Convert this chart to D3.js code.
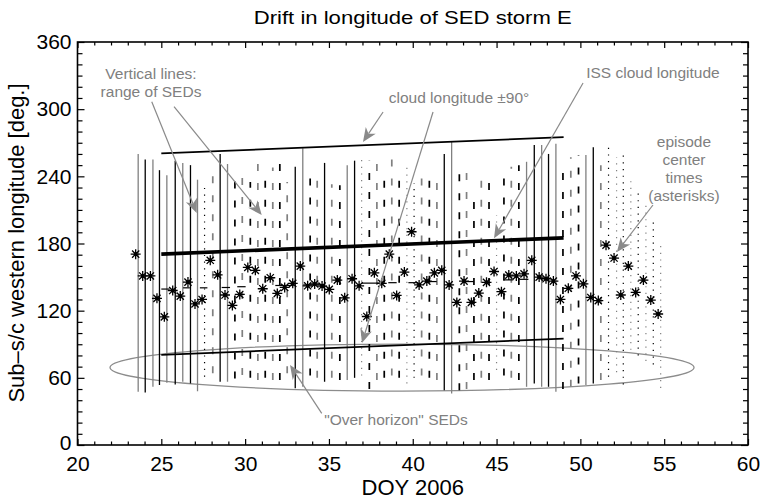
<!DOCTYPE html>
<html>
<head>
<meta charset="utf-8">
<script src="https://cdn.jsdelivr.net/npm/d3@7"></script>
<style>
  body { margin: 0; background: #fff; }
  text { font-family: "Liberation Sans", Arial, Helvetica, sans-serif; }
</style>
</head>
<body>
<div id="container"></div>
<script>
/* canvas + plot box */
const width = 761, height = 499;
const plotLeft = 77.5, plotRight = 748, plotTop = 42, plotBottom = 445;

/* SED episodes: centre time, centre longitude, longitude range, line kind
   s = solid, d = dashed, o = dotted */
const doy = [23.47, 23.89, 24.35, 24.74, 25.18, 25.68, 26.13, 26.59, 27.01, 27.43,
  27.92, 28.36, 28.80, 29.24, 29.68, 30.16, 30.61, 31.05, 31.50, 31.92,
  32.36, 32.84, 33.29, 33.73, 34.15, 34.59, 35.02, 35.50, 35.94, 36.38,
  36.80, 37.26, 37.71, 38.15, 38.60, 39.04, 39.50, 39.93, 40.38, 40.84,
  41.29, 41.73, 42.17, 42.63, 43.06, 43.50, 43.94, 44.40, 44.85, 45.29,
  45.73, 46.18, 46.64, 47.10, 47.54, 47.95, 48.39, 48.81, 49.28, 49.74,
  50.18, 50.62, 51.07, 51.53, 52.01, 52.41, 52.86, 53.30, 53.76, 54.20, 54.64];
const centerLon = [170.5, 151, 151, 131, 114.5, 138, 133, 145.5, 126, 130,
  165, 152, 134, 124.7, 134.5, 158.6, 156, 139.6, 149.4, 135.4,
  140.8, 144.4, 159.8, 142.2, 143.8, 142, 139, 147.3, 131.5, 148.5,
  142.2, 114.8, 153.8, 144.4, 170.5, 133.6, 154.5, 190.5, 143, 146.4,
  153.8, 156, 143, 127.4, 146.4, 127.4, 135.7, 145.3, 155, 137,
  151.8, 151, 152.9, 165, 150, 148.5, 146.4, 130, 140, 151,
  144, 131.8, 129, 178.5, 167, 134, 159.8, 136.3, 147.3, 129.5, 117];
const loLon = [47.6, 47, 52, 53.6, 55.6, 54, 56.5, 55, 48, 61,
  64, 56.5, 56.5, 59.5, 62.5, 60, 58, 60, 58, 58,
  64, 50.6, 52, 62, 60, 56.5, 60, 58, 58, 60,
  62, 50, 58, 60, 62, 60, 55, 60, 62, 60,
  58, 49, 46, 49, 50, 58, 60, 58, 67, 62,
  60, 58, 52, 55, 52, 52, 47.6, 50, 52, 55,
  53.6, 55, 58, 61, 65, 54, 85, 80, 75, 72, 51];
const hiLon = [260, 255, 255, 245.5, 241, 254, 252, 250, 237, 230,
  242.5, 260, 251, 238, 240, 235, 254, 237, 248, 251,
  235, 248.5, 265, 244, 245.5, 252, 233, 232, 250, 254,
  255, 254, 253, 240, 257, 244, 251.5, 234, 238, 245.5,
  243, 260, 271, 243, 243, 219, 237, 240, 205, 244,
  248.5, 250, 253, 268, 268, 260, 269, 245.5, 257, 259,
  259, 266, 250, 266, 257, 263, 237, 225, 216, 200, 180];
const lineKind = "sssssssssodssddddddddssddsddssodddddoodddssdddddodddsssssdddssdoooooooo".split("");

/* short horizontal segments near the asterisks: start, end, longitude */
const segStart = [25.0, 26.3, 27.3, 28.6, 29.53, 31.8, 33.47, 36.96, 38.54, 39.74, 40.84, 43.12, 45.4, 46.4];
const segEnd   = [25.5, 26.7, 27.75, 29.1, 30.03, 32.9, 34.77, 38.05, 39.04, 40.33, 41.43, 43.66, 46.0, 46.9];
const segLon   = [139.3, 140.4, 140.4, 140.7, 141.4, 142.5, 143, 144.6, 145, 145, 146, 146, 147.5, 148];

/* ISS cloud longitude and +/-90 deg */
const cloudDoy = [25, 49];
const cloudLon = [170.5, 185];
const cloudOffset = 90;

/* "over horizon" ellipse: centre doy, centre lon, half-width days, half-height deg */
const ellipseCenter = [39.36, 69.2];
const ellipseRadius = [17.42, 21];

/* tick labels */
const xTicks = [20, 25, 30, 35, 40, 45, 50, 55, 60];
const yTicks = [0, 60, 120, 180, 240, 300, 360];

/* annotations: [doy, lon, text] and arrows [doy0, lon0, doy1, lon1] */
const notes = [
  [24.385, 327.0, "Vertical lines:"],
  [24.385, 310.9, "range of SEDs"],
  [42.76, 305.5, "cloud longitude \u00b190\u00b0"],
  [54.33, 327.8, "ISS cloud longitude"],
  [56.18, 266.5, "episode"],
  [56.18, 250.1, "center"],
  [56.18, 234.3, "times"],
  [56.18, 218.0, "(asterisks)"],
  [39.0, 17.9, "\"Over horizon\" SEDs"]
];
const arrows = [
  [24.43, 306.7, 27.11, 207.2],
  [25.76, 302.2, 30.99, 205.5],
  [38.23, 297.5, 37.03, 270.7],
  [41.21, 297.5, 36.97, 91.1],
  [50.16, 323.4, 44.85, 184.6],
  [54.33, 214.4, 52.18, 172.4],
  [34.57, 28.3, 32.68, 71.5]
];

const grey = "#808080";
const noteGrey = "#808080";

const svg = d3.select("#container").append("svg")
  .attr("width", width)
  .attr("height", height);

/* SCALES */
const x = d3.scaleLinear().domain([20, 60]).range([plotLeft, plotRight]);
const y = d3.scaleLinear().domain([0, 360]).range([plotBottom, plotTop]);

/* ellipse (drawn first, under everything) */
svg.append("ellipse")
  .attr("cx", x(ellipseCenter[0]))
  .attr("cy", y(ellipseCenter[1]))
  .attr("rx", x(ellipseCenter[0] + ellipseRadius[0]) - x(ellipseCenter[0]))
  .attr("ry", y(0) - y(ellipseRadius[1]))
  .attr("fill", "none")
  .attr("stroke", "#8c8c8c")
  .attr("stroke-width", 1.3);

/* vertical range lines */
const episodes = doy.map((d, i) => ({
  doy: d, c: centerLon[i], lo: loLon[i], hi: hiLon[i], kind: lineKind[i], i
}));

const dashFor = { s: null, d: "7,12", o: "1.2,5.5" };
svg.append("g").selectAll("line")
  .data(episodes)
  .join("line")
  .attr("x1", d => x(d.doy + 0.15))
  .attr("x2", d => x(d.doy + 0.15))
  .attr("y1", d => y(d.lo))
  .attr("y2", d => y(d.hi))
  .attr("stroke", d => d.i % 2 === 0 ? grey : "#000")
  .attr("stroke-width", d => d.kind === "s" ? 1.3 : (d.kind === "d" ? 1.7 : 1.2))
  .attr("stroke-dasharray", d => dashFor[d.kind]);

/* cloud lines */
const cloud = d3.line().x(d => x(d[0])).y(d => y(d[1]));
const cloudPts = off => cloudDoy.map((d, i) => [d, cloudLon[i] + off]);
svg.append("path").attr("d", cloud(cloudPts(cloudOffset)))
  .attr("stroke", "#000").attr("stroke-width", 1.7).attr("fill", "none");
svg.append("path").attr("d", cloud(cloudPts(-cloudOffset)))
  .attr("stroke", "#000").attr("stroke-width", 1.7).attr("fill", "none");
svg.append("path").attr("d", cloud(cloudPts(0)))
  .attr("stroke", "#000").attr("stroke-width", 3.6).attr("fill", "none");

/* short horizontal segments */
svg.append("g").selectAll("line")
  .data(segStart)
  .join("line")
  .attr("x1", d => x(d))
  .attr("x2", (d, i) => x(segEnd[i]))
  .attr("y1", (d, i) => y(segLon[i]))
  .attr("y2", (d, i) => y(segLon[i]))
  .attr("stroke", "#000")
  .attr("stroke-width", 1.2);

/* asterisks */
const r = 5, q = r * 0.72;
const starPath = `M${-r},0L${r},0M0,${-r}L0,${r}M${-q},${-q}L${q},${q}M${-q},${q}L${q},${-q}`;
const stars = svg.append("g").selectAll("g")
  .data(episodes)
  .join("g")
  .attr("transform", d => `translate(${x(d.doy)},${y(d.c)})`);
stars.append("path").attr("d", starPath)
  .attr("stroke", "#000").attr("stroke-width", 1.3).attr("fill", "none");
stars.append("circle").attr("r", 1.9).attr("fill", "#000");

/* annotations */
svg.append("g").selectAll("text")
  .data(notes)
  .join("text")
  .attr("x", d => x(d[0]))
  .attr("y", d => y(d[1]))
  .attr("text-anchor", "middle")
  .attr("font-size", "15.5px")
  .attr("fill", noteGrey)
  .text(d => d[2]);

const arrowG = svg.append("g");
arrows.forEach(a => {
  const x0 = x(a[0]), y0 = y(a[1]), x1 = x(a[2]), y1 = y(a[3]);
  const ang = Math.atan2(y1 - y0, x1 - x0);
  const L = 14, W = 6, N = 10;
  const ux = Math.cos(ang), uy = Math.sin(ang);
  const px = -uy, py = ux;
  arrowG.append("line")
    .attr("x1", x0).attr("y1", y0)
    .attr("x2", x1 - ux * N).attr("y2", y1 - uy * N)
    .attr("stroke", "#8a8a8a").attr("stroke-width", 1.2);
  const pts = [
    [x1, y1],
    [x1 - ux * L + px * W, y1 - uy * L + py * W],
    [x1 - ux * N, y1 - uy * N],
    [x1 - ux * L - px * W, y1 - uy * L - py * W]
  ];
  arrowG.append("path")
    .attr("d", "M" + pts.map(p => p.join(",")).join("L") + "Z")
    .attr("fill", "#8a8a8a");
});

/* AXES */
const tickFont = "21px";
const minorX = d3.range(20, 61, 1).filter(v => v % 5 !== 0);
const minorY = d3.range(0, 361, 10).filter(v => v % 60 !== 0);

const axisStyle = g => {
  g.select(".domain").remove();
  g.selectAll("line").attr("stroke", "#000").attr("stroke-width", 1.2);
  g.selectAll("text").attr("font-size", tickFont).attr("fill", "#000")
    .attr("font-family", "'Liberation Sans', Arial, sans-serif");
};

svg.append("g").attr("transform", `translate(0,${plotBottom})`)
  .call(d3.axisBottom(x).tickValues(xTicks).tickSize(-6).tickPadding(11.5).tickFormat(d3.format("d")))
  .call(axisStyle);
svg.append("g").attr("transform", `translate(0,${plotBottom})`)
  .call(d3.axisBottom(x).tickValues(minorX).tickSize(-3.5).tickFormat(""))
  .call(axisStyle);
svg.append("g").attr("transform", `translate(0,${plotTop})`)
  .call(d3.axisTop(x).tickValues(xTicks).tickSize(-6).tickFormat(""))
  .call(axisStyle);
svg.append("g").attr("transform", `translate(0,${plotTop})`)
  .call(d3.axisTop(x).tickValues(minorX).tickSize(-3.5).tickFormat(""))
  .call(axisStyle);

svg.append("g").attr("transform", `translate(${plotLeft},0)`)
  .call(d3.axisLeft(y).tickValues(yTicks).tickSize(-7).tickPadding(6).tickFormat(d3.format("d")))
  .call(axisStyle)
  .call(g => g.selectAll(".tick").filter(d => d === 0).select("text").attr("dy", "0.2em"));
svg.append("g").attr("transform", `translate(${plotLeft},0)`)
  .call(d3.axisLeft(y).tickValues(minorY).tickSize(-5).tickFormat(""))
  .call(axisStyle);
svg.append("g").attr("transform", `translate(${plotRight},0)`)
  .call(d3.axisRight(y).tickValues(yTicks).tickSize(-7).tickFormat(""))
  .call(axisStyle);
svg.append("g").attr("transform", `translate(${plotRight},0)`)
  .call(d3.axisRight(y).tickValues(minorY).tickSize(-5).tickFormat(""))
  .call(axisStyle);

/* frame */
svg.append("rect")
  .attr("x", plotLeft).attr("y", plotTop)
  .attr("width", plotRight - plotLeft).attr("height", plotBottom - plotTop)
  .attr("fill", "none").attr("stroke", "#000").attr("stroke-width", 1.6);

/* titles */
svg.append("text")
  .attr("x", (plotLeft + plotRight) / 2).attr("y", 24)
  .attr("text-anchor", "middle")
  .attr("font-size", "19px")
  .attr("textLength", 318).attr("lengthAdjust", "spacingAndGlyphs")
  .text("Drift in longitude of SED storm E");

svg.append("text")
  .attr("x", (plotLeft + plotRight) / 2).attr("y", 495)
  .attr("text-anchor", "middle")
  .attr("font-size", "22px")
  .text("DOY 2006");

svg.append("text")
  .attr("transform", `translate(24,${(plotTop + plotBottom) / 2 - 0.5}) rotate(-90)`)
  .attr("text-anchor", "middle")
  .attr("font-size", "22px")
  .text("Sub\u2013s/c western longitude [deg.]");
</script>
</body>
</html>
